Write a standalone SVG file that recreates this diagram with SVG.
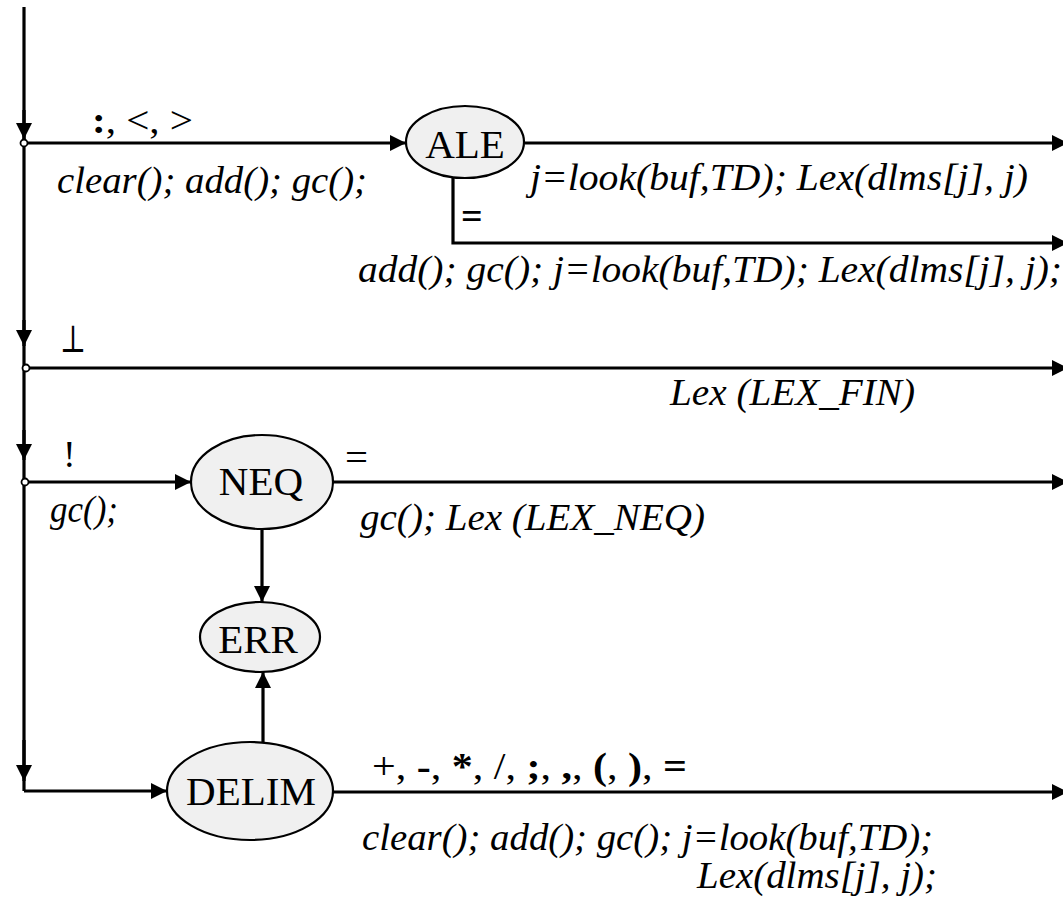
<svg xmlns="http://www.w3.org/2000/svg" width="1063" height="907" viewBox="0 0 1063 907">
<style>
.ln{fill:none;stroke:#000;stroke-width:3.2}
.nd ellipse{fill:#f0f0f0;stroke:#000;stroke-width:2.2}
.nl{font-family:"Liberation Serif","Times New Roman",serif;font-size:41px;text-anchor:middle;fill:#000}
.act{font-family:"Liberation Serif","Times New Roman",serif;font-size:38px;font-style:italic;fill:#000}
.sym{font-family:"Liberation Serif","Times New Roman","DejaVu Serif",serif;font-size:38px;fill:#000}
.dot{fill:#fff;stroke:#000;stroke-width:1.8}
</style>
<defs>
<marker id="ah" markerUnits="userSpaceOnUse" markerWidth="17" markerHeight="16" refX="16" refY="8" orient="auto">
<path d="M0,0 L16,8 L0,16 z" fill="#000"/>
</marker>
</defs>
<rect width="1063" height="907" fill="#fff"/>
<g id="connectors">
<path class="ln" d="M24,7 V791"/>
<path class="ln" d="M24,110 V139" marker-end="url(#ah)"/>
<path class="ln" d="M24,320 V346" marker-end="url(#ah)"/>
<path class="ln" d="M24,430 V460" marker-end="url(#ah)"/>
<path class="ln" d="M24,740 V781" marker-end="url(#ah)"/>
<path class="ln" d="M24,143 H406" marker-end="url(#ah)"/>
<path class="ln" d="M525,143 H1068" marker-end="url(#ah)"/>
<path class="ln" d="M453,177 V243 H1068" marker-end="url(#ah)"/>
<path class="ln" d="M24,368 H1068" marker-end="url(#ah)"/>
<path class="ln" d="M24,482 H191" marker-end="url(#ah)"/>
<path class="ln" d="M333,482 H1068" marker-end="url(#ah)"/>
<path class="ln" d="M262,529 V602" marker-end="url(#ah)"/>
<path class="ln" d="M263,742 V672" marker-end="url(#ah)"/>
<path class="ln" d="M24,791 H167" marker-end="url(#ah)"/>
<path class="ln" d="M333,792 H1068" marker-end="url(#ah)"/>
<circle class="dot" cx="24" cy="143" r="3.5"/>
<circle class="dot" cx="26" cy="368" r="3.5"/>
<circle class="dot" cx="25" cy="482" r="3.5"/>
<text class="sym" x="92" y="133" textLength="101" lengthAdjust="spacingAndGlyphs"><tspan font-weight="bold">:</tspan>, &lt;, &gt;</text>
<text class="act" x="57" y="193" textLength="310" lengthAdjust="spacingAndGlyphs">clear(); add(); gc();</text>
<text class="act" x="530" y="190" textLength="498" lengthAdjust="spacingAndGlyphs">j=look(buf,TD); Lex(dlms[j], j)</text>
<text class="sym" x="461" y="229" font-weight="bold">=</text>
<text class="act" x="358" y="282" textLength="704" lengthAdjust="spacingAndGlyphs">add(); gc(); j=look(buf,TD); Lex(dlms[j], j);</text>
<text class="sym" x="60" y="352" textLength="26" lengthAdjust="spacingAndGlyphs">⊥</text>
<text class="act" x="670" y="405" textLength="245" lengthAdjust="spacingAndGlyphs">Lex (LEX_FIN)</text>
<text class="sym" x="63" y="467">!</text>
<text class="act" x="50" y="522" textLength="68" lengthAdjust="spacingAndGlyphs">gc();</text>
<text class="sym" x="345" y="470" textLength="23" lengthAdjust="spacingAndGlyphs">=</text>
<text class="act" x="360" y="530" textLength="345" lengthAdjust="spacingAndGlyphs">gc(); Lex (LEX_NEQ)</text>
<text class="sym" x="372" y="779" textLength="315" lengthAdjust="spacingAndGlyphs">+, <tspan font-weight="bold">-</tspan>, <tspan font-weight="bold">*</tspan>, /, <tspan font-weight="bold">;</tspan>, <tspan font-weight="bold">,</tspan>, <tspan font-weight="bold">(</tspan>, <tspan font-weight="bold">)</tspan>, <tspan font-weight="bold">=</tspan></text>
<text class="act" x="362" y="850" textLength="571" lengthAdjust="spacingAndGlyphs">clear(); add(); gc(); j=look(buf,TD);</text>
<text class="act" x="697" y="888" textLength="240" lengthAdjust="spacingAndGlyphs">Lex(dlms[j], j);</text>
</g>
<g id="node-ALE" class="nd">
<ellipse cx="465" cy="142" rx="59" ry="36"/>
<text class="nl" x="465" y="158">ALE</text>
</g>
<g id="node-NEQ" class="nd">
<ellipse cx="262" cy="482" rx="71" ry="47"/>
<text class="nl" x="261" y="495">NEQ</text>
</g>
<g id="node-ERR" class="nd">
<ellipse cx="260" cy="637" rx="60" ry="35"/>
<text class="nl" x="258" y="653">ERR</text>
</g>
<g id="node-DELIM" class="nd">
<ellipse cx="250" cy="791" rx="83" ry="49"/>
<text class="nl" x="251" y="805">DELIM</text>
</g>
</svg>
